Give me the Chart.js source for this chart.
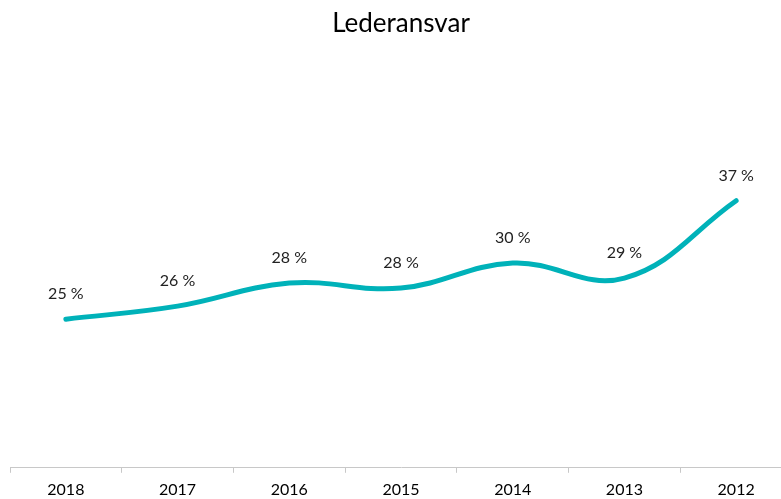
<!DOCTYPE html>
<html>
<head>
<meta charset="utf-8">
<script src="https://cdn.jsdelivr.net/npm/chart.js@4.4.1/dist/chart.umd.min.js"></script>
<style>
  html, body { margin: 0; padding: 0; background: #fff; }
  /* the plot runs a little past the right and bottom edges, as in the original */
  #wrap { width: 781px; height: 499px; overflow: hidden; }
</style>
</head>
<body>
<div id="wrap"><canvas id="chart" width="792" height="506"></canvas></div>
<script>
const years = ["2018", "2017", "2016", "2015", "2014", "2013", "2012"];
const shares = [24.8, 26.1, 28.4, 27.9, 30.4, 28.9, 36.6];
const chartTitle = "Lederansvar";

const FONT = "Lato, 'Open Sans', sans-serif";

// writes "25 %" style labels above each point
const pointLabels = {
  id: "pointLabels",
  afterDatasetsDraw(chart) {
    const ctx = chart.ctx;
    const meta = chart.getDatasetMeta(0);
    ctx.save();
    ctx.font = "16px " + FONT;
    ctx.fillStyle = "#222";
    ctx.textAlign = "center";
    ctx.textBaseline = "middle";
    meta.data.forEach((pt, i) => {
      ctx.fillText(Math.round(shares[i]) + " %", pt.x, pt.y - 25);
    });
    ctx.restore();
  },
};

new Chart(document.getElementById("chart"), {
  type: "line",
  data: {
    labels: years,
    datasets: [
      {
        data: shares,
        borderColor: "#00b2b9",
        borderWidth: 5,
        borderCapStyle: "round",
        tension: 0.4,
        pointRadius: 0,
        fill: false,
      },
    ],
  },
  options: {
    responsive: false,
    animation: false,
    layout: { padding: { left: 10, right: 0, bottom: 0 } },
    plugins: {
      legend: { display: false },
      tooltip: { enabled: false },
      title: {
        display: true,
        text: chartTitle,
        color: "#000",
        font: { family: FONT, size: 26, weight: "normal" },
        padding: { top: 8, bottom: 27 },
      },
    },
    scales: {
      x: {
        offset: true,
        border: { color: "#c8c8c8", width: 1 },
        grid: {
          offset: true,
          drawOnChartArea: false,
          drawTicks: true,
          tickLength: 5,
          color: "#c8c8c8",
        },
        ticks: {
          color: "#000",
          font: { family: FONT, size: 16 },
          padding: 7,
        },
      },
      y: {
        display: false,
        min: 10,
        max: 50,
      },
    },
  },
  plugins: [pointLabels],
});
</script>
</body>
</html>
